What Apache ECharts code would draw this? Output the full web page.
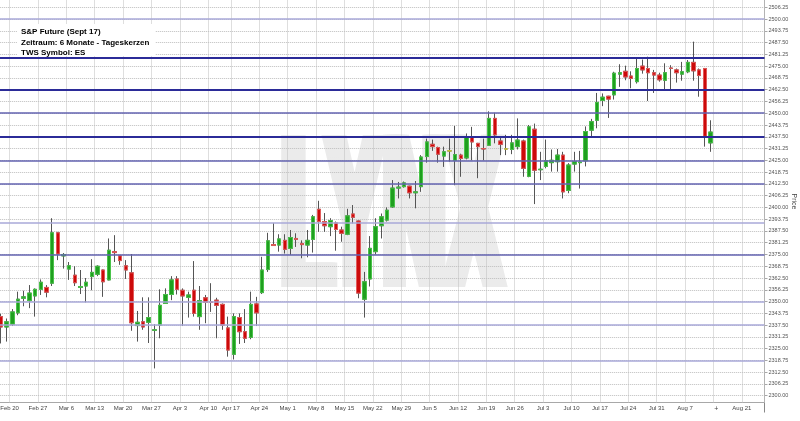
<!DOCTYPE html>
<html>
<head>
<meta charset="utf-8">
<script src="https://cdn.jsdelivr.net/npm/echarts@6/dist/echarts.min.js"></script>
<style>html,body{margin:0;padding:0;background:#fff}#c{width:800px;height:421px}</style>
</head>
<body>
<div id="c"></div>
<script>
// ---- data ----
const dates = [
 '2017-02-16','2017-02-17','2017-02-20','2017-02-21','2017-02-22','2017-02-23','2017-02-24','2017-02-27','2017-02-28',
 '2017-03-01','2017-03-02','2017-03-03','2017-03-06','2017-03-07','2017-03-08','2017-03-09','2017-03-10','2017-03-13','2017-03-14','2017-03-15','2017-03-16','2017-03-17','2017-03-20','2017-03-21','2017-03-22','2017-03-23','2017-03-24','2017-03-27','2017-03-28','2017-03-29','2017-03-30','2017-03-31',
 '2017-04-03','2017-04-04','2017-04-05','2017-04-06','2017-04-07','2017-04-10','2017-04-11','2017-04-12','2017-04-13','2017-04-17','2017-04-18','2017-04-19','2017-04-20','2017-04-21','2017-04-24','2017-04-25','2017-04-26','2017-04-27','2017-04-28',
 '2017-05-01','2017-05-02','2017-05-03','2017-05-04','2017-05-05','2017-05-08','2017-05-09','2017-05-10','2017-05-11','2017-05-12','2017-05-15','2017-05-16','2017-05-17','2017-05-18','2017-05-19','2017-05-22','2017-05-23','2017-05-24','2017-05-25','2017-05-26','2017-05-29','2017-05-30','2017-05-31',
 '2017-06-01','2017-06-02','2017-06-05','2017-06-06','2017-06-07','2017-06-08','2017-06-09','2017-06-12','2017-06-13','2017-06-14','2017-06-15','2017-06-16','2017-06-19','2017-06-20','2017-06-21','2017-06-22','2017-06-23','2017-06-26','2017-06-27','2017-06-28','2017-06-29','2017-06-30',
 '2017-07-03','2017-07-04','2017-07-05','2017-07-06','2017-07-07','2017-07-10','2017-07-11','2017-07-12','2017-07-13','2017-07-14','2017-07-17','2017-07-18','2017-07-19','2017-07-20','2017-07-21','2017-07-24','2017-07-25','2017-07-26','2017-07-27','2017-07-28','2017-07-31',
 '2017-08-01','2017-08-02','2017-08-03','2017-08-04','2017-08-07','2017-08-08','2017-08-09','2017-08-10','2017-08-11'
];
const futureDates = ['2017-08-14','2017-08-15','2017-08-16','2017-08-17','2017-08-18','2017-08-21','2017-08-22','2017-08-23','2017-08-24'];
const markerDate = '2017-08-14';

const open = [
 2342.0,2336.5,2338.0,2344.0,2351.75,2350.5,2353.0,2356.5,2357.5,
 2359.75,2386.5,2374.25,2367.25,2364.0,2357.5,2358.25,2363.25,2364.5,2366.75,2361.5,2376.5,2374.25,2369.0,2365.25,2337.25,2339.25,2339.0,2334.75,2337.5,2349.0,2353.75,2362.0,
 2356.0,2352.25,2356.0,2342.0,2352.0,2349.75,2350.75,2348.5,2336.0,2322.0,2341.5,2334.0,2331.0,2348.75,2354.75,2367.0,2380.25,2380.0,2382.5,
 2378.25,2383.5,2380.75,2380.0,2383.0,2399.0,2392.5,2389.75,2391.75,2388.0,2385.75,2396.5,2392.75,2351.25,2362.0,2376.5,2390.25,2393.25,2400.25,2410.25,2411.0,2411.25,2407.75,
 2411.0,2427.0,2433.5,2431.75,2427.25,2430.0,2425.0,2427.75,2426.25,2437.5,2434.0,2431.25,2433.0,2447.25,2435.25,2431.0,2430.75,2432.25,2435.25,2416.5,2441.5,2420.0,
 2421.75,2423.75,2424.25,2427.75,2409.0,2423.0,2423.75,2424.75,2441.0,2446.25,2456.75,2459.0,2459.75,2470.75,2472.25,2469.75,2466.75,2475.0,2473.75,2471.5,2470.25,
 2467.5,2474.0,2473.0,2470.75,2472.0,2477.0,2473.0,2473.75,2434.25
];
const close = [
 2336.5,2339.25,2344.5,2351.25,2352.5,2354.5,2356.5,2360.25,2355.0,
 2386.5,2375.25,2375.0,2369.0,2360.0,2358.0,2360.25,2365.5,2368.75,2360.5,2377.25,2376.0,2371.75,2366.75,2338.75,2339.0,2336.5,2341.5,2335.0,2348.0,2353.75,2361.5,2356.5,
 2353.0,2353.5,2343.75,2350.5,2349.5,2349.5,2348.0,2337.5,2324.25,2342.0,2334.0,2330.5,2348.5,2344.0,2366.75,2382.25,2379.75,2383.25,2377.75,
 2384.0,2383.0,2380.25,2382.5,2395.0,2392.5,2390.25,2393.0,2388.25,2386.25,2395.5,2394.75,2354.5,2360.5,2378.25,2389.75,2395.0,2398.5,2410.25,2410.75,2413.0,2407.75,2408.25,
 2426.75,2434.75,2432.25,2428.25,2429.5,2430.0,2428.0,2426.0,2437.5,2434.75,2432.25,2431.0,2447.25,2438.5,2433.5,2431.0,2434.25,2435.75,2420.75,2442.75,2419.75,2420.25,
 2424.75,2425.0,2427.75,2408.25,2422.5,2424.25,2424.0,2440.25,2445.5,2455.75,2458.5,2457.5,2471.25,2471.5,2469.25,2468.5,2473.75,2473.0,2471.5,2470.25,2467.75,
 2471.5,2473.75,2471.5,2472.0,2477.0,2472.5,2470.0,2437.75,2440.0
];
const low = [
 2327.75,2328.75,2337.0,2342.75,2347.5,2346.5,2342.0,2353.5,2352.25,
 2358.25,2372.0,2367.5,2361.5,2358.25,2354.0,2349.5,2356.0,2363.5,2352.5,2361.25,2371.0,2369.5,2362.0,2334.5,2328.75,2335.0,2328.0,2314.5,2330.5,2349.0,2350.75,2353.75,
 2337.0,2341.5,2342.0,2335.0,2338.5,2344.5,2330.5,2335.0,2320.75,2319.25,2327.5,2328.0,2330.0,2337.0,2354.0,2365.75,2379.5,2376.5,2375.5,
 2374.75,2379.0,2373.0,2373.5,2376.0,2387.0,2387.0,2384.75,2377.0,2381.75,2385.25,2391.5,2351.75,2341.5,2358.0,2375.0,2383.5,2392.5,2399.75,2404.75,2410.5,2404.75,2399.5,
 2408.25,2423.75,2430.0,2423.75,2421.5,2424.25,2411.75,2416.25,2425.5,2425.0,2415.5,2425.0,2433.0,2434.0,2427.75,2427.75,2428.25,2430.75,2416.25,2416.0,2401.75,2414.5,
 2420.75,2419.0,2419.0,2404.75,2407.5,2419.0,2410.0,2421.75,2437.5,2442.0,2453.75,2447.5,2457.25,2464.0,2467.5,2463.25,2465.75,2471.0,2456.5,2460.75,2466.75,
 2462.5,2462.5,2466.25,2467.25,2471.25,2467.25,2458.75,2432.25,2429.5
];
const high = [
 2343.5,2341.0,2346.0,2355.25,2355.75,2358.75,2357.0,2361.75,2358.75,
 2394.25,2387.0,2375.75,2371.0,2368.75,2366.75,2362.5,2372.5,2369.25,2367.0,2383.5,2385.25,2374.75,2372.0,2375.25,2345.0,2352.25,2352.25,2338.0,2356.5,2357.0,2363.5,2363.5,
 2357.0,2355.25,2371.5,2358.25,2353.5,2359.75,2352.0,2349.0,2342.0,2343.75,2343.75,2346.0,2355.25,2352.5,2373.75,2386.5,2391.75,2385.75,2385.75,
 2388.0,2386.25,2382.5,2388.0,2396.0,2403.5,2397.0,2394.25,2392.5,2389.75,2399.25,2401.25,2393.0,2365.75,2384.75,2394.25,2396.75,2400.0,2414.5,2413.5,2413.75,2411.5,2414.0,
 2427.75,2436.5,2436.0,2432.25,2432.25,2436.5,2443.25,2428.5,2439.25,2442.75,2434.25,2436.5,2451.0,2450.25,2437.5,2438.5,2438.5,2447.25,2436.0,2443.75,2444.5,2429.5,
 2436.0,2430.75,2431.0,2429.5,2423.5,2429.5,2430.0,2443.0,2447.0,2460.75,2460.5,2459.25,2472.0,2476.0,2475.25,2472.25,2479.0,2478.5,2480.0,2473.0,2471.5,
 2476.5,2475.5,2473.75,2477.25,2478.25,2488.0,2473.75,2474.0,2446.25
];

const heavyLevels = [2479.25, 2462.5, 2437.5];
const mediumLevels = [2450, 2425, 2412.5, 2375];
const lightLevels = [2500, 2391.75, 2350, 2337.5, 2318.75];

const titleLines = ['S&P Future (Sept 17)', 'Zeitraum: 6 Monate - Tageskerzen', 'TWS Symbol: ES'];
const watermark = 'LYNX';
const yName = 'Price';
const monthNames = ['Jan','Feb','Mar','Apr','May','Jun','Jul','Aug','Sep','Oct','Nov','Dec'];
const yMin = 2293.75, yMax = 2512.5, yStep = 6.25;

// ---- helpers ----
function hasFont(name) {
  const ctx = document.createElement('canvas').getContext('2d');
  const t = 'LYNX Feb 20 2506.25 abcdefg';
  ctx.font = '40px monospace';
  const w1 = ctx.measureText(t).width;
  ctx.font = '40px "' + name + '", monospace';
  return ctx.measureText(t).width !== w1;
}
const narrowOk = hasFont('Liberation Sans Narrow');
const NARROW = narrowOk ? '"Liberation Sans Narrow"' : '"Liberation Sans"';

const categories = dates.concat(futureDates);
function isMonday(d) { return new Date(d + 'T00:00:00Z').getUTCDay() === 1; }
function fmtDate(d) {
  const dt = new Date(d + 'T00:00:00Z');
  return monthNames[dt.getUTCMonth()] + ' ' + dt.getUTCDate();
}

const candleData = dates.map((d, i) => [open[i], close[i], low[i], high[i]]);
const bodyData = dates.map((d, i) => [open[i], close[i], Math.min(open[i], close[i]), Math.max(open[i], close[i])]);

const lineData = []
  .concat(heavyLevels.map(v => ({ yAxis: v, lineStyle: { color: '#2b2b98', width: 2, type: 'solid' } })))
  .concat(mediumLevels.map(v => ({ yAxis: v, lineStyle: { color: '#6363b0', width: 1.5, type: 'solid' } })))
  .concat(lightLevels.map(v => ({ yAxis: v, lineStyle: { color: '#a9a9d8', width: 1.5, type: 'solid' } })));

// watermark: heavy condensed letters (several slightly shifted copies thicken the stems)
const wmScale = narrowOk ? 0.474 : 0.39;
const wmFont = 'bold 220px ' + NARROW + ', sans-serif';
const wmGraphics = [0, 2, 4, 6, 8, 10, 12].map(dx => ({
  type: 'text', z: -10, silent: true,
  x: 386 + dx, y: 226, scaleX: wmScale, scaleY: 1,
  style: { text: watermark, font: wmFont, fill: '#ebebeb', align: 'center', verticalAlign: 'middle' }
}));

const chart = echarts.init(document.getElementById('c'), null, { renderer: 'canvas' });
const bandW = 766.3 / categories.length;
const gridDot = { color: '#bdbdbd', type: [1, 1], width: 1 };

chart.setOption({
  animation: false,
  backgroundColor: '#ffffff',
  title: {
    text: titleLines.join('\n'),
    left: 17, top: 25,
    padding: [2, 4, 0, 4],
    textStyle: { fontFamily: '"Liberation Sans", Arial, sans-serif', fontWeight: 'bold', fontSize: 8, lineHeight: 10.3, color: '#000' }
  },
  graphic: wmGraphics.concat([{
    type: 'rect', z: 1, silent: true,
    shape: { x: 17, y: 24, width: 138, height: 32 },
    style: { fill: '#ffffff' }
  }]),
  grid: { left: -1.8, right: 35.5, top: -4.5, bottom: 13.5, containLabel: false, outerBoundsMode: 'none' },
  xAxis: [{
    type: 'category', data: categories, boundaryGap: true, offset: -5,
    axisLine: { show: true, lineStyle: { color: '#a8a8a8', width: 1 } },
    axisTick: { show: false },
    splitLine: { show: false },
    axisLabel: {
      show: true, interval: (i, v) => isMonday(v), margin: 3,
      fontFamily: NARROW + ', sans-serif', fontSize: narrowOk ? 7 : 6, color: '#444',
      formatter: (v) => v === markerDate ? '{b|+}' : '{a|' + fmtDate(v) + '}',
      rich: { a: { padding: [0, bandW, 0, 0], fontFamily: NARROW + ', sans-serif', fontSize: narrowOk ? 7 : 6, color: '#444' },
              b: { fontFamily: NARROW + ', sans-serif', fontSize: 7, color: '#444' } }
    }
  }, {
    type: 'category', data: categories, boundaryGap: true, offset: -5, position: 'bottom',
    axisLine: { show: false },
    axisTick: { show: true, interval: (i, v) => v === markerDate, length: 10, lineStyle: { color: '#888', width: 1 } },
    axisLabel: { show: false },
    splitLine: { show: false }
  }, {
    // weekly (Monday) vertical grid lines
    type: 'category', data: categories, boundaryGap: true, offset: -5, position: 'bottom',
    axisLine: { show: false },
    axisTick: { show: true, inside: true, interval: (i, v) => isMonday(v), length: 420, lineStyle: gridDot },
    axisLabel: { show: false },
    splitLine: { show: false }
  }],
  yAxis: {
    type: 'value', position: 'right', min: yMin, max: yMax, interval: yStep, scale: true,
    name: yName, nameLocation: 'middle', nameRotate: -90, nameGap: 26, nameMoveOverlap: false,
    nameTextStyle: { fontFamily: NARROW + ', sans-serif', fontSize: 7, color: '#444' },
    axisLine: { show: true, lineStyle: { color: '#a8a8a8', width: 1 } },
    axisTick: { show: true, length: 3, lineStyle: { color: '#a8a8a8' } },
    axisLabel: {
      margin: 4, showMinLabel: false, showMaxLabel: false,
      fontFamily: NARROW + ', sans-serif', fontSize: narrowOk ? 6.5 : 5.5, color: '#555',
      formatter: v => v.toFixed(2)
    },
    splitLine: { show: true, showMinLine: false, showMaxLine: false, lineStyle: gridDot }
  },
  series: [{
    type: 'line', data: [], z: 2, silent: true,
    markLine: { silent: true, symbol: ['none', 'none'], label: { show: false }, animation: false, data: lineData }
  }, {
    name: 'wick', type: 'candlestick', data: candleData, z: 3, barWidth: 4, silent: true,
    itemStyle: { color: '#1f9f1f', color0: '#cc0a0a', borderColor: '#555', borderColor0: '#555', borderColorDoji: '#555', borderWidth: 1 }
  }, {
    name: 'body', type: 'candlestick', data: bodyData, z: 4, barWidth: 4, silent: true,
    itemStyle: { color: '#1f9f1f', color0: '#cc0a0a', borderColor: '#4ac34a', borderColor0: '#e25a5a', borderColorDoji: '#d6cf2a', borderWidth: 1 }
  }]
});
</script>
</body>
</html>
